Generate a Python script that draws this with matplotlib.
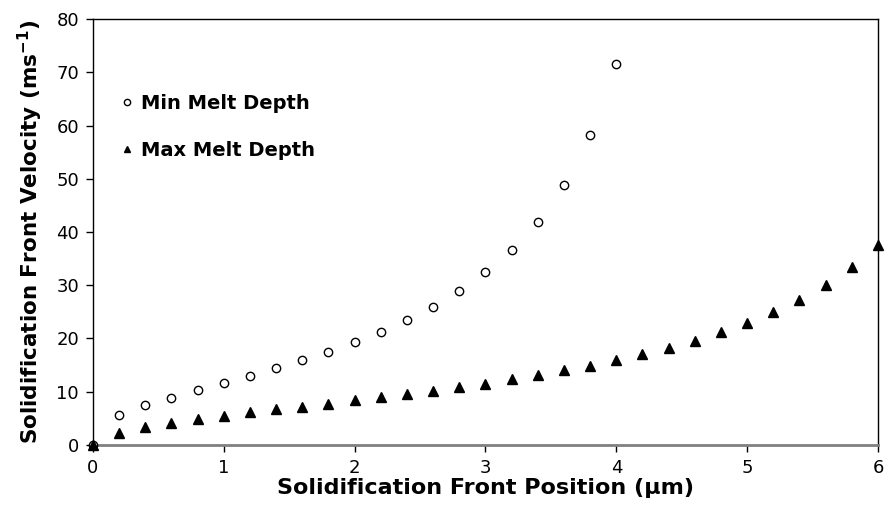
import matplotlib
matplotlib.use('Agg')
import matplotlib.pyplot as plt

# positions along the front (um)
x_min = [0, 0.2, 0.4, 0.6, 0.8, 1.0, 1.2, 1.4, 1.6, 1.8, 2.0,
         2.2, 2.4, 2.6, 2.8, 3.0, 3.2, 3.4, 3.6, 3.8, 4.0]
v_min = [0, 5.6, 7.5, 8.9, 10.4, 11.6, 13.0, 14.5, 15.9, 17.5, 19.3,
         21.3, 23.5, 26.0, 28.9, 32.4, 36.6, 41.9, 48.8, 58.2, 71.5]

x_max = [0, 0.2, 0.4, 0.6, 0.8, 1.0, 1.2, 1.4, 1.6, 1.8, 2.0,
         2.2, 2.4, 2.6, 2.8, 3.0, 3.2, 3.4, 3.6, 3.8, 4.0,
         4.2, 4.4, 4.6, 4.8, 5.0, 5.2, 5.4, 5.6, 5.8, 6.0]
v_max = [0, 2.3, 3.4, 4.1, 4.8, 5.5, 6.1, 6.7, 7.2, 7.7, 8.4,
         9.0, 9.5, 10.2, 10.9, 11.5, 12.4, 13.1, 14.0, 14.9, 16.0,
         17.1, 18.3, 19.6, 21.2, 23.0, 25.0, 27.3, 30.0, 33.4, 37.5]

x_ticks = [0, 1, 2, 3, 4, 5, 6]
y_ticks = [0, 10, 20, 30, 40, 50, 60, 70, 80]

plt.rcParams['font.family'] = ['DejaVu Sans']

fig = plt.figure(figsize=(8.93, 5.11), dpi=100)
ax = fig.add_axes([0.1041, 0.1292, 0.8791, 0.8336])

ax.plot(x_min, v_min, 'o', mfc='white', mec='black', mew=1.0, ms=6,
        label='Min Melt Depth', clip_on=False, zorder=3)
ax.plot(x_max, v_max, '^', color='black', ms=6.5,
        label='Max Melt Depth', clip_on=False, zorder=3)

ax.set_xlim(0, 6)
ax.set_ylim(0, 80)
ax.set_xticks(x_ticks)
ax.set_yticks(y_ticks)
ax.tick_params(direction='out', length=5, width=1, labelsize=13, colors='black', pad=5)

for s in ['top', 'right', 'left']:
    ax.spines[s].set_color('black')
    ax.spines[s].set_linewidth(1.0)
ax.spines['bottom'].set_color('#808080')
ax.spines['bottom'].set_linewidth(2.0)

ax.set_xlabel('Solidification Front Position (\u03bcm)', fontsize=16,
              fontweight='bold', labelpad=1)
ax.set_ylabel('Solidification Front Velocity (ms$^{\\mathbf{-1}}$)', fontsize=15.5,
              fontweight='bold', labelpad=8)

leg = ax.legend(loc='upper left', bbox_to_anchor=(0.013, 0.865), frameon=False,
                prop={'weight': 'bold', 'size': 14}, handlelength=0.6,
                handletextpad=0.45, labelspacing=1.45, markerscale=0.75)

fig.savefig('out.png', dpi=100)
